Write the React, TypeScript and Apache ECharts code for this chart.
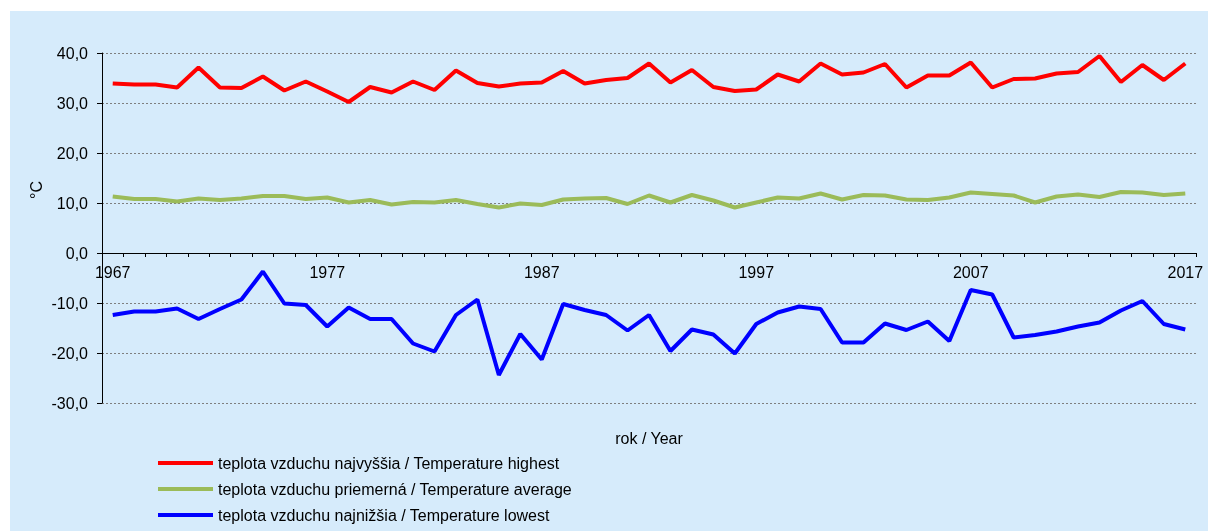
import React, { useEffect, useRef } from "react";
import * as echarts from "echarts";

const years: string[] = [];
for (let y = 1967; y <= 2017; y++) years.push(String(y));

const highest = [
  33.9, 33.7, 33.7, 33.1, 37.1, 33.1, 33.0, 35.3, 32.5, 34.3,
  32.3, 30.2, 33.2, 32.1, 34.3, 32.6, 36.5, 34.0, 33.3, 33.9,
  34.1, 36.4, 33.9, 34.6, 35.0, 37.9, 34.1, 36.6, 33.2, 32.4,
  32.7, 35.7, 34.3, 37.9, 35.7, 36.1, 37.8, 33.1, 35.5, 35.5,
  38.1, 33.1, 34.8, 34.9, 35.9, 36.2, 39.4, 34.2, 37.6, 34.6,
  37.9,
];

const average = [
  11.3, 10.8, 10.8, 10.3, 10.9, 10.6, 10.9, 11.4, 11.4, 10.8,
  11.1, 10.1, 10.6, 9.7, 10.2, 10.1, 10.6, 9.8, 9.1, 9.9,
  9.6, 10.7, 10.9, 11.0, 9.8, 11.5, 10.1, 11.6, 10.5, 9.1,
  10.1, 11.1, 10.9, 11.9, 10.7, 11.6, 11.5, 10.7, 10.6, 11.1,
  12.1, 11.8, 11.5, 10.1, 11.3, 11.7, 11.2, 12.2, 12.1, 11.6,
  11.9,
];

const lowest = [
  -12.4, -11.7, -11.7, -11.1, -13.2, -11.2, -9.3, -3.7, -10.1, -10.4,
  -14.7, -10.9, -13.2, -13.2, -18.1, -19.7, -12.4, -9.3, -24.4, -16.2,
  -21.3, -10.2, -11.4, -12.4, -15.5, -12.4, -19.6, -15.3, -16.3, -20.1,
  -14.2, -11.9, -10.7, -11.2, -17.9, -17.9, -14.1, -15.4, -13.7, -17.6,
  -7.4, -8.3, -16.9, -16.4, -15.7, -14.7, -13.9, -11.5, -9.6, -14.2,
  -15.3,
];

const seriesNames = [
  "teplota vzduchu najvyššia / Temperature highest",
  "teplota vzduchu priemerná / Temperature average",
  "teplota vzduchu najnižšia / Temperature lowest",
];
const seriesColors = ["#FF0000", "#9BBB59", "#0000FF"];

const FONT = "'Liberation Sans', Arial, sans-serif";
const FS = 16;

export default function App() {
  const ref = useRef<HTMLDivElement>(null);
  useEffect(() => {
    if (!ref.current) return;
    const chart = echarts.init(ref.current, undefined, { renderer: "svg" });
    const data = [highest, average, lowest];
    chart.setOption({
      animation: false,
      textStyle: { fontFamily: FONT },
      graphic: [
        {
          type: "rect",
          z: -10,
          silent: true,
          shape: { x: 10, y: 11, width: 1198, height: 520 },
          style: { fill: "#D6EBFB" },
        },
        {
          type: "text",
          x: 36,
          y: 190,
          rotation: Math.PI / 2,
          style: {
            text: "°C",
            fontSize: FS,
            fontFamily: FONT,
            fill: "#000",
            align: "center",
            verticalAlign: "middle",
          },
        },
        {
          type: "text",
          x: 649,
          y: 438,
          style: {
            text: "rok / Year",
            fontSize: FS,
            fontFamily: FONT,
            fill: "#000",
            align: "center",
            verticalAlign: "middle",
          },
        },
      ],
      grid: { left: 102, right: 12, top: 53, bottom: 128, containLabel: false },
      legend: {
        orient: "vertical",
        left: 158,
        top: 455,
        padding: 0,
        icon: "rect",
        itemWidth: 55,
        itemHeight: 4,
        itemGap: 10,
        textStyle: { fontSize: FS, color: "#000", fontFamily: FONT },
        data: seriesNames,
      },
      xAxis: {
        type: "category",
        data: years,
        boundaryGap: true,
        position: "bottom",
        offset: -150,
        axisLine: { onZero: false, lineStyle: { color: "#000", width: 1 } },
        axisTick: { show: true, interval: 0, length: 4, lineStyle: { color: "#000" } },
        axisLabel: {
          interval: 9,
          margin: 11,
          fontSize: FS,
          color: "#000",
          fontFamily: FONT,
        },
        splitLine: { show: false },
      },
      yAxis: {
        type: "value",
        min: -30,
        max: 40,
        interval: 10,
        axisLine: { show: true, lineStyle: { color: "#000", width: 1 } },
        axisTick: { show: true, length: 5, lineStyle: { color: "#000" } },
        axisLabel: {
          margin: 14,
          fontSize: FS,
          color: "#000",
          fontFamily: FONT,
          formatter: (v: number) => v.toFixed(1).replace(".", ","),
        },
        splitLine: { show: true, lineStyle: { color: "#7F7F7F", type: [2, 2], width: 1 } },
      },
      series: seriesNames.map((name, i) => ({
        name,
        type: "line",
        data: data[i],
        symbol: "none",
        lineStyle: { color: seriesColors[i], width: 4 },
        itemStyle: { color: seriesColors[i] },
      })),
    });
    return () => chart.dispose();
  }, []);
  return (
    <div
      ref={ref}
      style={{ position: "fixed", left: 0, top: 0, width: 1208, height: 531 }}
    />
  );
}
